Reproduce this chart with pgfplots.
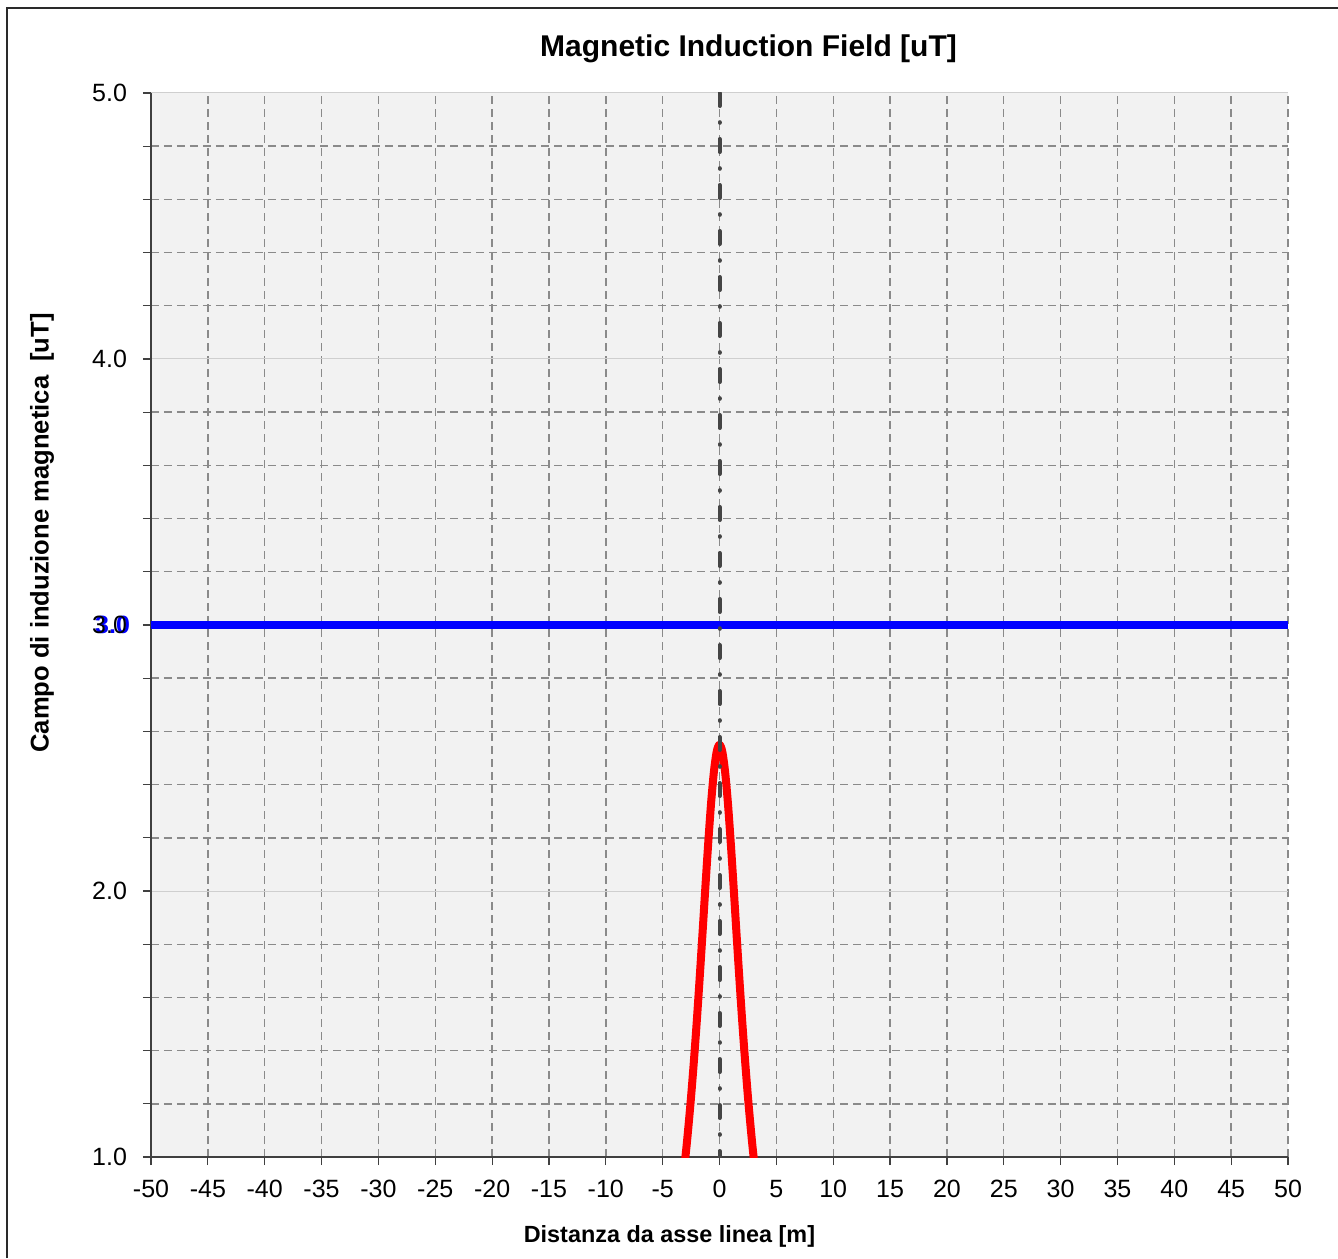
\documentclass[border=0pt]{standalone}
\usepackage{pgfplots}
\pgfplotsset{compat=1.18}
\usepackage{fontspec}
\setmainfont{Liberation Sans}
\definecolor{gridgray}{HTML}{8A8A8A}
\definecolor{majgray}{HTML}{CFCFCF}
\definecolor{axgray}{HTML}{404040}
\definecolor{bggray}{HTML}{F2F2F2}
\definecolor{framegray}{HTML}{2A2A2A}
\definecolor{vlinegray}{HTML}{454545}

\begin{document}
\begin{tikzpicture}[x=1pt,y=1pt]
\useasboundingbox (-75.5,-50.5) rectangle (593.5,578.5);
\draw[framegray, line width=1pt] (-72,-50.5) -- (-72,574.5) -- (593.5,574.5);
\begin{axis}[
  at={(0,0)}, anchor=south west,
  scale only axis,
  width=568.5pt, height=532pt,
  xmin=-50, xmax=50, ymin=1, ymax=5,
  axis x line*=bottom, axis y line*=left,
  axis line style={-, draw=axgray, line width=0.8pt},
  xtick={-50,-45,...,50},
  ytick={1,2,4,5},
  yticklabel={\pgfmathprintnumber[fixed,fixed zerofill,precision=1]{\tick}},
  extra y ticks={3},
  extra y tick labels={{\rlap{\hspace{1.5pt}\textcolor{blue}{\bfseries 3.0}}3.0}},
  minor ytick={1.2,1.4,1.6,1.8,2.2,2.4,2.6,2.8,3.2,3.4,3.6,3.8,4.2,4.4,4.6,4.8},
  tick align=outside,
  major tick length=4pt, minor tick length=4pt,
  tick style={axgray, line width=0.6pt},
  /pgf/number format/assume math mode=true,
  tick label style={font=\fontsize{12.5}{14}\selectfont},
  xticklabel style={yshift=-4pt},
  yticklabel style={xshift=-4.5pt},
  grid=both,
  major x grid style={gridgray, dash pattern=on 4pt off 2.5pt, line width=0.7pt},
  minor y grid style={gridgray, dash pattern=on 4pt off 2.5pt, line width=0.7pt},
  major y grid style={majgray, line width=0.5pt},
  axis background/.style={fill=bggray},
  title={Magnetic Induction Field [uT]},
  title style={font=\bfseries\fontsize{15}{18}\selectfont, at={(axis description cs:0.5255,1)}, anchor=center, yshift=16pt},
  xlabel={Distanza da asse linea [m]},
  xlabel style={font=\bfseries\fontsize{11.7}{14}\selectfont, at={(axis description cs:0.456,0)}, anchor=center, yshift=-39.5pt},
  ylabel={Campo di induzione magnetica \ [uT]},
  ylabel style={font=\bfseries\fontsize{12.8}{15}\selectfont, at={(axis description cs:-0.0959,0.5865)}, anchor=center},
]
% Campo calcolato
\addplot[red, line width=4pt, line join=round, smooth] coordinates {
  (-4,0.678) (-3.5,0.819) (-3,1.000) (-2.75,1.107) (-2.5,1.227) (-2.25,1.362)
  (-2,1.509) (-1.75,1.669) (-1.5,1.837) (-1.25,2.009) (-1,2.175) (-0.75,2.325)
  (-0.5,2.445) (-0.25,2.523) (0,2.550) (0.25,2.523) (0.5,2.445) (0.75,2.325)
  (1,2.175) (1.25,2.009) (1.5,1.837) (1.75,1.669) (2,1.509) (2.25,1.362)
  (2.5,1.227) (2.75,1.107) (3,1.000) (3.5,0.819) (4,0.678)
};
% Limite
\addplot[blue, line width=3.8pt] coordinates {(-50,3) (50,3)};
% Asse linea
\addplot[vlinegray, line width=2pt, line cap=round, dash pattern=on 6.5pt off 8.1pt on 0.3pt off 8.1pt] coordinates {(0,5) (0,1)};
\end{axis}
\end{tikzpicture}
\end{document}
